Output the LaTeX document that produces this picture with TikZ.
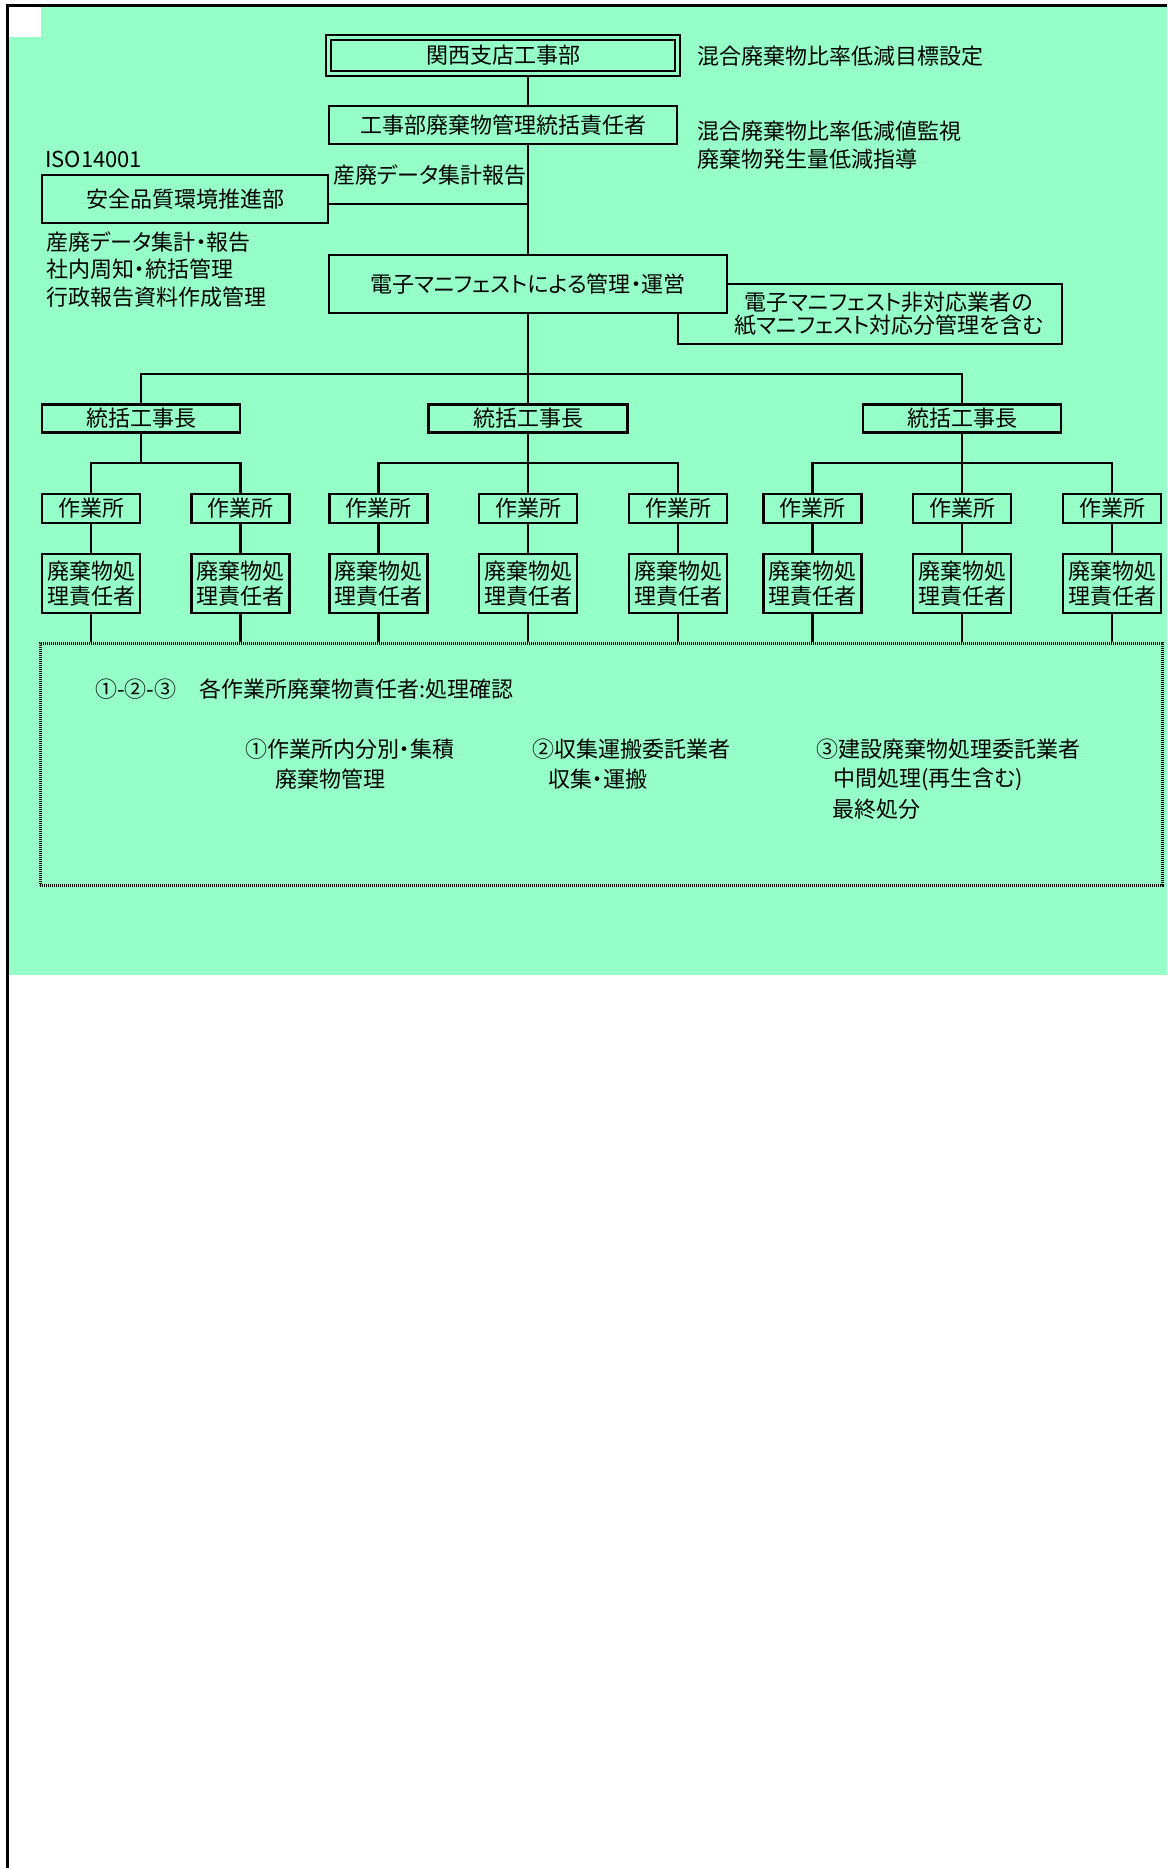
\documentclass[tikz,border=0pt]{standalone}
\usepackage{fontspec}
\setmainfont{Noto Sans CJK JP}[RawFeature=+palt]
\definecolor{bg}{RGB}{150,255,200}
\pgfdeclarelayer{bgl}
\pgfdeclarelayer{lines}
\pgfsetlayers{bgl,lines,main}
\begin{document}
\begin{tikzpicture}[x=1pt,y=-1pt,
  every node/.style={font=\fontsize{22}{26}\selectfont, inner sep=0pt},
  box/.style={draw, line width=2.8pt, fill=bg, align=center},
  lbl/.style={anchor=west, align=left},
  conn/.style={line width=2.8pt},
  dotbox/.style={draw, line width=3pt, dash pattern=on 1.1pt off 0.9pt}]
\useasboundingbox (0,0) rectangle (1167,1868);
\begin{pgfonlayer}{bgl}
  \fill[bg] (9,7) rectangle (1167,975);
  \fill[white] (9,7) rectangle (41,37);
  \draw[line width=3pt] (6.2,5.5) -- (1167,5.5);
  \draw[line width=3pt] (7.7,4) -- (7.7,1868);
\end{pgfonlayer}

% top part
\node[box, double=bg, double distance=2.3pt, line width=2.4pt, minimum width=349pt, minimum height=36pt] (top) at (503,55.5) {関西支店工事部};
\node[lbl] (t1) at (697,56) {混合廃棄物比率低減目標設定};
\node[box, minimum width=348pt, minimum height=38pt] (mgr) at (503,125) {工事部廃棄物管理統括責任者};
\node[lbl, font=\fontsize{22}{28}\selectfont] (t2) at (697,145) {混合廃棄物比率低減値監視\\廃棄物発生量低減指導};
\node[lbl] (iso) at (45,159) {ISO14001};
\node[box, minimum width=286pt, minimum height=48pt] (safety) at (185,199) {安全品質環境推進部};
\node[lbl] (rep) at (333,175) {産廃データ集計報告};
\node[lbl, font=\fontsize{22}{27.5}\selectfont] (t3) at (46,269.5) {産廃データ集計・報告\\社内周知・統括管理\\行政報告資料作成管理};
\node[box, minimum width=384pt, minimum height=60pt] (paper) at (870,314) {};
\node[font=\fontsize{22}{22.5}\selectfont, align=center] (ptxt) at (889,314) {電子マニフェスト非対応業者の\\紙マニフェスト対応分管理を含む};
\node[box, minimum width=398pt, minimum height=58pt] (emani) at (528,284) {電子マニフェストによる管理・運営};

% chiefs
\node[box, minimum width=198pt, minimum height=28pt] (g1) at (141,418.5) {統括工事長};
\node[box, minimum width=199pt, minimum height=28pt] (g2) at (528,418.5) {統括工事長};
\node[box, minimum width=198pt, minimum height=28pt] (g3) at (962,418.5) {統括工事長};

\foreach \i/\x in {1/91,2/240.5,3/378.5,4/528,5/678,6/812.5,7/962,8/1112} {
  \node[box, minimum width=98pt, minimum height=29pt] (w\i) at (\x,508.5) {作業所};
  \node[box, minimum width=98pt, minimum height=59pt, font=\fontsize{22}{25}\selectfont] (r\i) at (\x,583.5) {廃棄物処\\理責任者};
}

\node[dotbox, minimum width=1122pt, minimum height=242pt] (dbox) at (601,764) {};
\node[lbl] (n0) at (95,689) {①-②-③};
\node[lbl] (n0b) at (199,689) {各作業所廃棄物責任者:処理確認};
\node[lbl] (n1a) at (245,749) {①作業所内分別・集積};
\node[lbl] (n1b) at (275,779) {廃棄物管理};
\node[lbl] (n2a) at (532,749) {②収集運搬委託業者};
\node[lbl] (n2b) at (548,779) {収集・運搬};
\node[lbl] (n3a) at (816,749) {③建設廃棄物処理委託業者};
\node[lbl] (n3b) at (833,779) {中間処理(再生含む)};
\node[lbl] (n3c) at (832,809) {最終処分};

\coordinate (tr) at (528,0);
\coordinate (sj) at (528,204);
\coordinate (b0) at (0,374);
\coordinate (b1) at (0,463);
\begin{pgfonlayer}{lines}
  \draw[conn] (top.south -| tr) -- (mgr.north -| tr);
  \draw[conn] (mgr.south -| tr) -- (emani.north);
  \draw[conn] (safety.east |- sj) -- (sj);
  \draw[conn] (emani.south) -- (g2.north);
  \draw[conn] (g1.north) |- (b0 -| g3.north) -- (g3.north);
  \draw[conn] (g1.south) -- (g1.south |- b1);
  \draw[conn] (w1.north) |- (b1 -| w2.north) -- (w2.north);
  \draw[conn] (g2.south) -- (w4.north);
  \draw[conn] (w3.north) |- (b1 -| w5.north) -- (w5.north);
  \draw[conn] (g3.south) -- (w7.north);
  \draw[conn] (w6.north) |- (b1 -| w8.north) -- (w8.north);
  \foreach \i in {1,...,8} {
    \draw[conn] (w\i.south) -- (r\i.north);
    \draw[conn] (r\i.south) -- (r\i.south |- dbox.north);
  }
\end{pgfonlayer}
\end{tikzpicture}
\end{document}
